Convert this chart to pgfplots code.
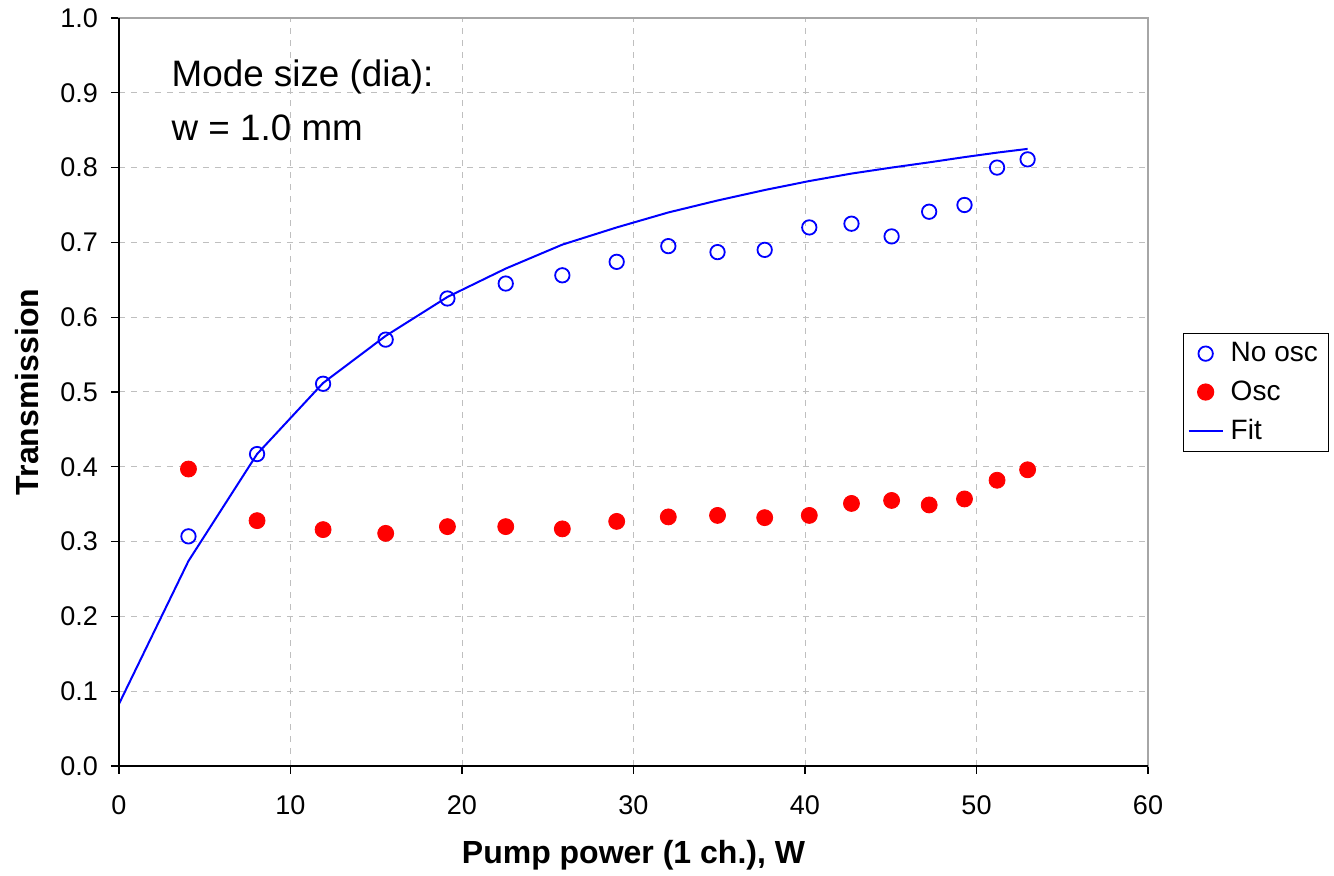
\documentclass[border=0pt]{standalone}
\usepackage{pgfplots}
\pgfplotsset{compat=1.18}
\usepackage{fontspec}
\setmainfont{Liberation Sans}
\definecolor{fitblue}{RGB}{0,0,255}
\definecolor{oscred}{RGB}{255,0,0}
\begin{document}
\begin{tikzpicture}
\useasboundingbox (-59.5pt,-55pt) rectangle (607.5pt,383pt);
\begin{axis}[
  at={(0,0)}, anchor=south west,
  scale only axis,
  width=514.5pt, height=374pt,
  xmin=0, xmax=60, ymin=0, ymax=1,
  xtick={0,10,...,60},
  ytick={0,0.1,...,1.0},
  yticklabel style={xshift=-3pt},
  y tick label style={/pgf/number format/fixed, /pgf/number format/fixed zerofill, /pgf/number format/precision=1},
  /pgf/number format/assume math mode=true,
  tick label style={font=\fontsize{13.5}{15}\selectfont},
  xticklabel style={yshift=-7.5pt},
  axis line style={gray!70, line width=0.7pt},
  tick style={black, line width=0.6pt},
  tick align=outside,
  major tick length=4pt,
  xtick pos=bottom, ytick pos=left,
  grid=major,
  major grid style={dashed, gray!50, line width=0.5pt},
  xlabel={Pump power (1 ch.), W},
  ylabel={Transmission},
  label style={font=\fontsize{16}{18}\selectfont\bfseries},
  xlabel style={at={(axis description cs:0.5,-0.119)}, anchor=center},
  ylabel style={at={(axis description cs:-0.0894,0.5)}, anchor=center},
  legend style={at={(rel axis cs:1.034,0.579)}, anchor=north west,
    draw=black, line width=0.6pt, font=\fontsize{14}{16}\selectfont,
    row sep=4pt, inner xsep=2pt, inner ysep=2.5pt,
    nodes={inner xsep=3.5pt}},
  legend cell align=left,
  clip=false,
]
\addplot[only marks, mark=o, mark size=3.6pt, fitblue, line width=0.9pt] coordinates {
(4.05,0.307) (8.05,0.417) (11.9,0.511) (15.55,0.570) (19.15,0.625)
(22.55,0.645) (25.85,0.656) (29.02,0.674) (32.03,0.695) (34.9,0.687)
(37.65,0.690) (40.25,0.720) (42.71,0.725) (45.05,0.708) (47.24,0.741)
(49.3,0.750) (51.2,0.800) (52.98,0.811)
};
\addlegendentry{No osc}
\addplot[only marks, mark=*, mark size=4pt, oscred, draw=oscred, fill=oscred] coordinates {
(4.05,0.397) (8.05,0.328) (11.9,0.316) (15.55,0.311) (19.15,0.320)
(22.55,0.320) (25.85,0.317) (29.02,0.327) (32.03,0.333) (34.9,0.335)
(37.65,0.332) (40.25,0.335) (42.71,0.351) (45.05,0.355) (47.24,0.349)
(49.3,0.357) (51.2,0.382) (52.98,0.396)
};
\addlegendentry{Osc}
\addplot[fitblue, line width=1pt, no marks] coordinates {
(0,0.083) (4.05,0.274) (8.05,0.417) (11.9,0.512) (15.55,0.575)
(19.15,0.627) (22.55,0.665) (25.85,0.697) (29.02,0.720) (32.03,0.740)
(34.9,0.756) (37.65,0.770) (40.25,0.782) (42.71,0.792) (45.05,0.800)
(47.24,0.807) (49.3,0.814) (51.2,0.820) (52.98,0.825)
};
\addlegendentry{Fit}
\draw[black, line width=0.8pt] (rel axis cs:0,1) -- (rel axis cs:0,0) -- (rel axis cs:1,0);
\node[anchor=base west, inner sep=0pt, font=\fontsize{18.4}{20}\selectfont] at (axis cs:3.05,0.908) {Mode size (dia):};
\node[anchor=base west, inner sep=0pt, font=\fontsize{18.4}{20}\selectfont] at (axis cs:3.05,0.836) {w = 1.0 mm};
\end{axis}
\end{tikzpicture}
\end{document}
